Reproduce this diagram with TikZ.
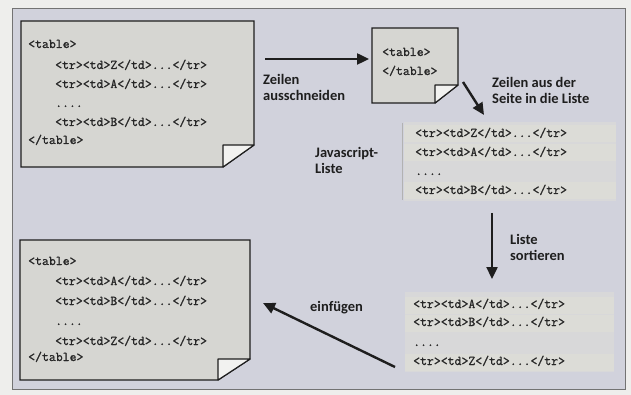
\documentclass[tikz,border=0pt]{standalone}
\usepackage{fontspec}
\newfontfamily\labelfont{Carlito}
\newfontfamily\codefont{Latin Modern Mono}[FakeBold=1.3]
\usetikzlibrary{arrows.meta}
\definecolor{outerbg}{HTML}{EEEEEC}
\definecolor{panelbg}{HTML}{D1D2DC}
\definecolor{pagefill}{HTML}{D6D6D2}
\definecolor{stripfill}{HTML}{DCDCD7}
\definecolor{foldfill}{HTML}{F2F2F0}
\definecolor{inkc}{HTML}{1E1E1E}
\definecolor{codec}{HTML}{262626}
\tikzset{
  code/.style={anchor=west, inner sep=0pt, text=codec, font=\codefont\fontsize{13.4}{14}\selectfont, text height=8pt, text depth=2pt},
  lbl/.style={anchor=west, inner sep=0pt, text=inkc, font=\labelfont\bfseries\fontsize{14.5}{15}\selectfont, align=left},
  pagebox/.style={fill=pagefill, draw=inkc, line width=1.4pt, line join=miter},
  foldbox/.style={fill=foldfill, draw=inkc, line width=1.1pt, line join=round},
  bigarrow/.style={draw=inkc, line width=2.4pt, -{Triangle[length=12pt,width=11pt]}},
}
\newcommand{\docpage}[6]{% x1 y1 x2 y2 fx fy
  \path[pagebox] (#1,#2) -- (#3,#2) -- (#3,#6) -- (#5,#4) -- (#1,#4) -- cycle;
  \path[foldbox] (#5,#6) -- (#3,#6) -- (#5,#4) -- cycle;
}
\begin{document}
\begin{tikzpicture}[x=1pt,y=-1pt]
\useasboundingbox (0,0) rectangle (631,395);
\fill[outerbg] (0,0) rectangle (631,395);
\filldraw[fill=panelbg, draw=black!55, line width=0.6pt] (12,8) rectangle (625,389);

% pages
\docpage{21}{21}{254}{167}{223}{145}
\docpage{372}{28}{458}{103}{435}{85}
\docpage{20}{240}{250}{380}{218}{359}

% page 1 text
\node[code] (p1a) at (28,45) {<table>};
\node[code] (p1b) at (55,66) {<tr><td>Z</td>...</tr>};
\node[code] (p1c) at (55,85) {<tr><td>A</td>...</tr>};
\node[code] (p1d) at (55,104) {....};
\node[code] (p1e) at (55,123) {<tr><td>B</td>...</tr>};
\node[code] (p1f) at (28,141) {</table>};

% page 2 text
\node[code] (p2a) at (382,53) {<table>};
\node[code] (p2b) at (382,72) {</table>};

% page 3 text
\node[code] (p3a) at (28,262) {<table>};
\node[code] (p3b) at (55,282) {<tr><td>A</td>...</tr>};
\node[code] (p3c) at (55,302) {<tr><td>B</td>...</tr>};
\node[code] (p3d) at (55,322) {....};
\node[code] (p3e) at (55,342) {<tr><td>Z</td>...</tr>};
\node[code] (p3f) at (28,358) {</table>};

% list 1
\fill[stripfill!60!panelbg] (404,122) rectangle (616,201);
\foreach \yy in {134,153,191} {\fill[stripfill] (404,\yy-8.5) rectangle (616,\yy+8.5);}
\draw[black!30, line width=0.8pt] (402,123) -- (402,200);
\node[code] (l1a) at (415,134) {<tr><td>Z</td>...</tr>};
\node[code] (l1b) at (415,153) {<tr><td>A</td>...</tr>};
\node[code] (l1c) at (415,172) {....};
\node[code] (l1d) at (415,191) {<tr><td>B</td>...</tr>};

% list 2
\fill[stripfill!60!panelbg] (405,292) rectangle (614,372);
\foreach \yy in {305,323,362} {\fill[stripfill] (405,\yy-8.5) rectangle (614,\yy+8.5);}
\node[code] (l2a) at (413,305) {<tr><td>A</td>...</tr>};
\node[code] (l2b) at (413,323) {<tr><td>B</td>...</tr>};
\node[code] (l2c) at (413,343) {....};
\node[code] (l2d) at (413,362) {<tr><td>Z</td>...</tr>};

% labels
\node[lbl] (t1) at (263,87) {Zeilen\\[1pt]ausschneiden};
\node[lbl] (t2) at (492,90) {Zeilen aus der\\[1pt]Seite in die Liste};
\node[lbl] (t3) at (315,160) {Javascript-\\[1pt]Liste};
\node[lbl] (t4) at (510,247) {Liste\\[1pt]sortieren};
\node[lbl] (t5) at (310,308) {einfügen};

% arrow endpoints
\coordinate (a1s) at (265,59);
\coordinate (a1e) at (369,59);
\coordinate (a2s) at (463,82);
\coordinate (a2e) at (484,115);
\coordinate (a3s) at (492,213);
\coordinate (a3e) at (492,279);
\coordinate (a4s) at (395,367);
\coordinate (a4e) at (263,303);

\draw[bigarrow] (a1s) -- (a1e);
\draw[bigarrow] (a2s) -- (a2e);
\draw[bigarrow] (a3s) -- (a3e);
\draw[bigarrow] (a4s) -- (a4e);
\end{tikzpicture}
\end{document}
